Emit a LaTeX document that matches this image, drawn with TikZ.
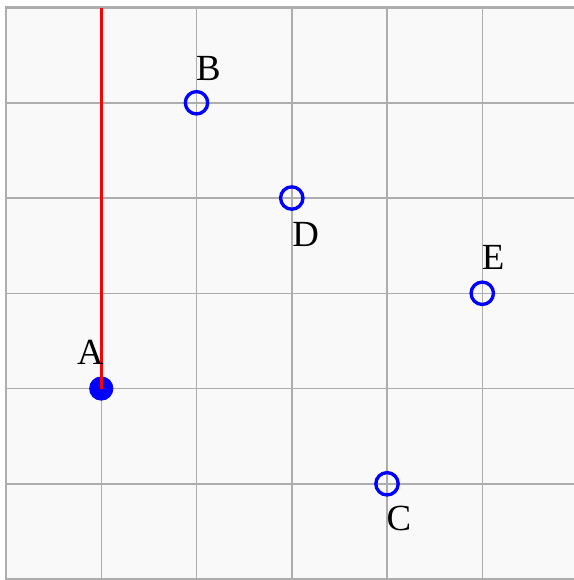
\documentclass[tikz,border=0pt]{standalone}
\usepackage{fontspec}
\setmainfont{Liberation Serif}
\begin{document}
\begin{tikzpicture}[x=1cm,y=1cm,
  gridline/.style={draw=black!32, line width=0.45pt},
  openpt/.style={circle, draw=blue, line width=1pt, fill=none, minimum size=0.235cm, inner sep=0pt},
  fullpt/.style={circle, fill=blue, draw=blue, minimum size=0.24cm, inner sep=0pt},
  lbl/.style={font=\fontsize{11}{13}\selectfont, inner sep=0pt}]
\useasboundingbox (-0.063,-0.01) rectangle (5.96,6.079);
\fill[black!2.5] (0,0) rectangle (6.2,6);
\foreach \i in {1,...,5} {
  \draw[gridline] (\i,0) -- (\i,6);
  \draw[gridline] (0,\i) -- (6.2,\i);
}
\draw[draw=black!32, line width=0.7pt] (6.2,0) -- (0,0) -- (0,6) -- (6.2,6);
\coordinate (top) at (1,6);
\node[fullpt] (A) at (1,2) {};
\node[openpt] (B) at (2,5) {};
\node[openpt] (C) at (4,1) {};
\node[openpt] (D) at (3,4) {};
\node[openpt] (E) at (5,3) {};
\draw[red, line width=1pt] (A.center) -- (top);
\node[lbl] (lA) at (0.885,2.375) {A};
\node[lbl] (lB) at (2.125,5.36) {B};
\node[lbl] (lC) at (4.125,0.635) {C};
\node[lbl] (lD) at (3.145,3.615) {D};
\node[lbl] (lE) at (5.115,3.375) {E};
\end{tikzpicture}
\end{document}
